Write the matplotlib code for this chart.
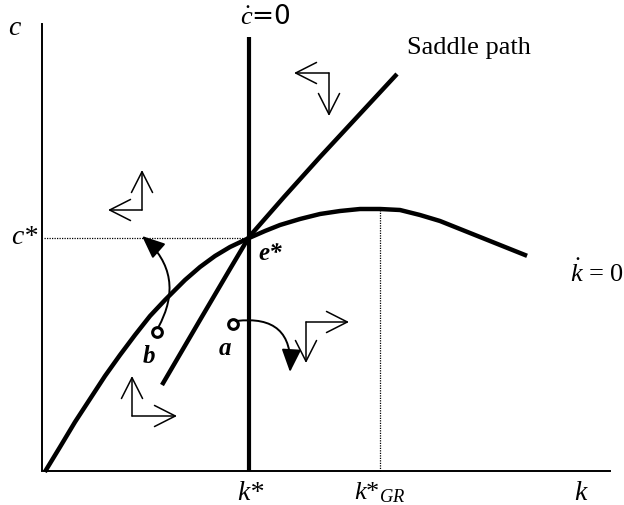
#!/usr/bin/env python3

import matplotlib
matplotlib.use('Agg')
import matplotlib.pyplot as plt
from matplotlib.patches import ArrowStyle


# steady state values (diagram units, origin at the axes corner)
k_star = 205
c_star = 233
k_gr = 336
k_max = 566
c_max = 447
cdot_top = 434

# kdot = 0 locus
kdot_k = [2, 16, 31, 46, 61, 76, 91, 106, 121, 141, 156, 171, 186, 205,
          221, 236, 256, 276, 296, 316, 336, 356, 376, 396, 416, 436, 456, 481]
kdot_c = [1, 24, 49, 72, 95, 116, 136, 155, 171, 191, 204, 215, 224, 233,
          240, 246, 252, 257, 260, 262, 262, 261, 256, 250, 242, 234, 226, 216]

# saddle path
saddle_k = [118, 156, 186, 205, 240, 276, 353]
saddle_c = [86, 151, 202, 234, 274, 314, 397]

# direction arrows: corner, horizontal tip, vertical tip
arrow_corner = [(98, 261), (285, 398), (88, 55), (262, 149)]
arrow_htip = [(64, 261), (250, 398), (133, 55), (305, 149)]
arrow_vtip = [(98, 301), (285, 355), (88, 95), (262, 108)]

# starting points b and a, and where their paths end
point_names = ['b', 'a']
point_k = [113, 189]
point_c = [139, 147]
path_start = [(114, 143), (192, 150)]
path_end = [(98, 235), (246, 99)]
path_rad = [0.4, -0.6]


def main():
    plt.rcParams['font.family'] = ['Liberation Serif', 'DejaVu Serif']
    plt.rcParams['mathtext.fontset'] = 'custom'
    plt.rcParams['mathtext.rm'] = 'Liberation Serif'
    plt.rcParams['mathtext.it'] = 'Liberation Serif:italic'
    plt.rcParams['mathtext.bf'] = 'Liberation Serif:bold'

    fig = plt.figure(figsize=(6.24, 5.06), dpi=100)
    ax = fig.add_axes([0, 0, 1, 1])
    ax.set_xlim(-44, 580)
    ax.set_ylim(-34, 472)
    ax.axis('off')

    # axes
    ax.plot([-2, -2], [0, c_max], color='black', lw=1.4)
    ax.plot([0, k_max], [0, 0], color='black', lw=1.4)

    # dotted guides
    ax.plot([0, k_star], [c_star, c_star], color='black', lw=0.9, ls=(0, (1, 1)))
    ax.plot([k_gr, k_gr], [0, 262], color='black', lw=0.9, ls=(0, (1, 1)))

    # cdot = 0
    ax.plot([k_star, k_star], [0, cdot_top], color='black', lw=3.0,
            solid_capstyle='butt')
    # kdot = 0
    ax.plot(kdot_k, kdot_c, color='black', lw=3.2, solid_joinstyle='round')
    # saddle path
    ax.plot(saddle_k, saddle_c, color='black', lw=3.2, solid_joinstyle='round',
            solid_capstyle='butt')

    head = ArrowStyle('->', head_length=0.75, head_width=0.38)
    for corner, htip, vtip in zip(arrow_corner, arrow_htip, arrow_vtip):
        for tip in (htip, vtip):
            ax.annotate('', xy=tip, xytext=corner,
                        arrowprops=dict(arrowstyle=head, lw=1.1, color='black',
                                        mutation_scale=20, shrinkA=0, shrinkB=0))

    filled = ArrowStyle('-|>', head_length=0.7, head_width=0.3)
    for start, end, rad in zip(path_start, path_end, path_rad):
        ax.annotate('', xy=end, xytext=start,
                    arrowprops=dict(arrowstyle=filled, lw=1.4, color='black',
                                    mutation_scale=20, shrinkA=0, shrinkB=0,
                                    connectionstyle='arc3,rad=%s' % rad))
    ax.plot(point_k, point_c, 'o', ms=7, mfc='white', mec='black', mew=2.2)

    for name, k, c in zip(point_names, point_k, point_c):
        ax.text(k - 8, c - 12, name, fontsize=18, fontweight='bold',
                style='italic', ha='center', va='top')

    ax.text(k_star + 9, c_star - 3, 'e*', fontsize=18, fontweight='bold',
            style='italic', ha='left', va='top')

    ax.text(-30, 444, 'c', fontsize=20, style='italic', ha='center', va='center')
    ax.text(-20, c_star + 1, 'c*', fontsize=20, style='italic', ha='center',
            va='center')
    ax.text(k_star + 16, 455, r'$\dot{c}$=0', fontsize=19,
            family='DejaVu Sans', ha='center', va='center')
    ax.text(363, 424, 'Saddle path', fontsize=19, ha='left', va='center')
    ax.text(553, 199, r'$\dot{k}$ = 0', fontsize=19, ha='center', va='center')

    ax.text(k_star + 1, -28, 'k*', fontsize=20, style='italic', ha='center',
            va='baseline')
    ax.text(k_gr, -27, r'$k$*$_{GR}$', fontsize=19, ha='center', va='baseline')
    ax.text(536, -28, 'k', fontsize=20, style='italic', ha='center',
            va='baseline')

    fig.savefig('out.png', dpi=100)


if __name__ == '__main__':
    main()
